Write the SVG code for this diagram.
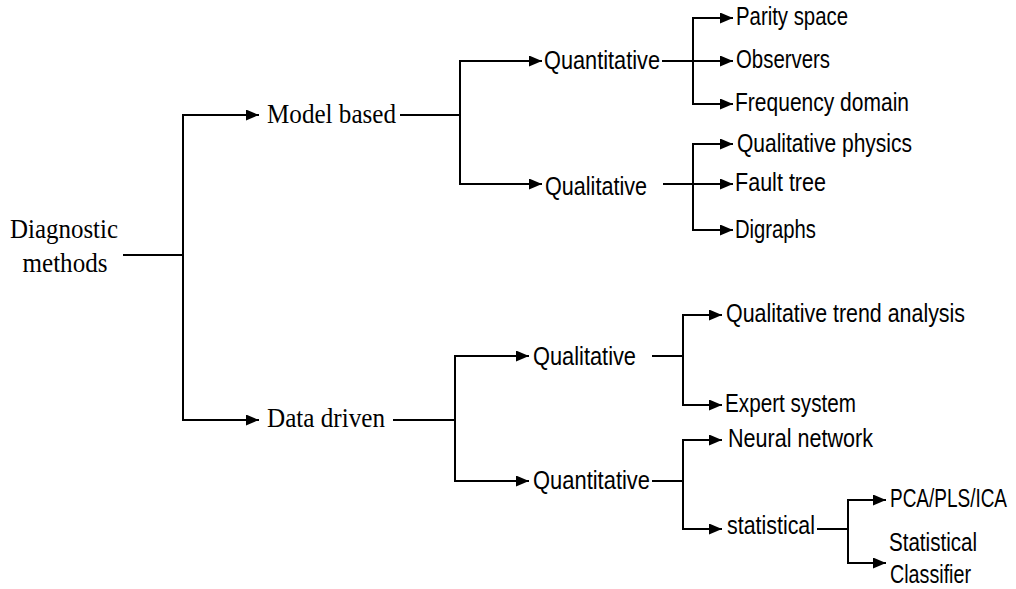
<svg xmlns="http://www.w3.org/2000/svg" width="1016" height="589" viewBox="0 0 1016 589">
<style>
.ln{fill:none;stroke:#000;stroke-width:2}
.ar{fill:none;stroke:#000;stroke-width:2;marker-end:url(#ah)}
.serif{font-family:"Liberation Serif","Times New Roman",serif;font-size:27px;fill:#000}
.sans{font-family:"Liberation Sans Narrow","Arial Narrow","Liberation Sans",sans-serif;font-size:26px;fill:#000}
</style>
<defs>
<marker id="ah" markerWidth="13" markerHeight="11" refX="13" refY="5.5" orient="auto" markerUnits="userSpaceOnUse">
<path d="M0,0 L13,5.5 L0,11 z" fill="#000"/>
</marker>
</defs>
<rect width="1016" height="589" fill="#fff"/>
<g id="connectors">
<path class="ln" d="M123,255 H183 M183,115 V420"/>
<path class="ar" d="M182,115 H259"/>
<path class="ar" d="M182,420 H259"/>
<path class="ln" d="M400,115 H460 M460,61 V184"/>
<path class="ar" d="M459,61 H542"/>
<path class="ar" d="M459,184 H542"/>
<path class="ln" d="M662,61 H693 M693,18 V104"/>
<path class="ar" d="M692,18 H733"/>
<path class="ar" d="M693,61 H733"/>
<path class="ar" d="M692,104 H733"/>
<path class="ln" d="M663,184 H693 M693,144 V230"/>
<path class="ar" d="M692,144 H733"/>
<path class="ar" d="M693,184 H733"/>
<path class="ar" d="M692,230 H733"/>
<path class="ln" d="M393,420 H455 M455,356 V481"/>
<path class="ar" d="M454,356 H529"/>
<path class="ar" d="M454,481 H529"/>
<path class="ln" d="M652,356 H683 M683,315 V405"/>
<path class="ar" d="M682,315 H722"/>
<path class="ar" d="M682,405 H722"/>
<path class="ln" d="M652,481 H683 M683,440 V529"/>
<path class="ar" d="M682,440 H722"/>
<path class="ar" d="M682,529 H722"/>
<path class="ln" d="M817,529 H848 M848,500 V563"/>
<path class="ar" d="M847,500 H886"/>
<path class="ar" d="M847,563 H886"/>
</g>
<g id="n-root"><text class="serif" x="64" y="238" text-anchor="middle" textLength="108" lengthAdjust="spacingAndGlyphs">Diagnostic</text><text class="serif" x="65" y="272" text-anchor="middle" textLength="85" lengthAdjust="spacingAndGlyphs">methods</text></g>
<g id="n-model"><text class="serif" x="267" y="123" textLength="129" lengthAdjust="spacingAndGlyphs">Model based</text></g>
<g id="n-data"><text class="serif" x="267" y="427" textLength="118" lengthAdjust="spacingAndGlyphs">Data driven</text></g>
<g id="n-m-quant"><text class="sans" x="544" y="69" textLength="116" lengthAdjust="spacingAndGlyphs">Quantitative</text></g>
<g id="n-m-qual"><text class="sans" x="545" y="195" textLength="102" lengthAdjust="spacingAndGlyphs">Qualitative</text></g>
<g id="n-parity"><text class="sans" x="736" y="25" textLength="112" lengthAdjust="spacingAndGlyphs">Parity space</text></g>
<g id="n-observers"><text class="sans" x="736" y="68" textLength="94" lengthAdjust="spacingAndGlyphs">Observers</text></g>
<g id="n-frequency"><text class="sans" x="735" y="111" textLength="174" lengthAdjust="spacingAndGlyphs">Frequency domain</text></g>
<g id="n-qualphys"><text class="sans" x="737" y="152" textLength="175" lengthAdjust="spacingAndGlyphs">Qualitative physics</text></g>
<g id="n-fault"><text class="sans" x="735" y="191" textLength="91" lengthAdjust="spacingAndGlyphs">Fault tree</text></g>
<g id="n-digraphs"><text class="sans" x="735" y="238" textLength="81" lengthAdjust="spacingAndGlyphs">Digraphs</text></g>
<g id="n-d-qual"><text class="sans" x="533" y="365" textLength="103" lengthAdjust="spacingAndGlyphs">Qualitative</text></g>
<g id="n-d-quant"><text class="sans" x="533" y="489" textLength="117" lengthAdjust="spacingAndGlyphs">Quantitative</text></g>
<g id="n-trend"><text class="sans" x="726" y="322" textLength="239" lengthAdjust="spacingAndGlyphs">Qualitative trend analysis</text></g>
<g id="n-expert"><text class="sans" x="725" y="412" textLength="131" lengthAdjust="spacingAndGlyphs">Expert system</text></g>
<g id="n-neural"><text class="sans" x="728" y="447" textLength="145" lengthAdjust="spacingAndGlyphs">Neural network</text></g>
<g id="n-statistical"><text class="sans" x="727" y="534" textLength="88" lengthAdjust="spacingAndGlyphs">statistical</text></g>
<g id="n-pca"><text class="sans" transform="translate(890,507) scale(0.73,1)" x="0" y="0">PCA/PLS/ICA</text></g>
<g id="n-classifier"><text class="sans" x="889" y="551" textLength="88" lengthAdjust="spacingAndGlyphs">Statistical</text><text class="sans" x="890" y="583" textLength="81" lengthAdjust="spacingAndGlyphs">Classifier</text></g>
</svg>
